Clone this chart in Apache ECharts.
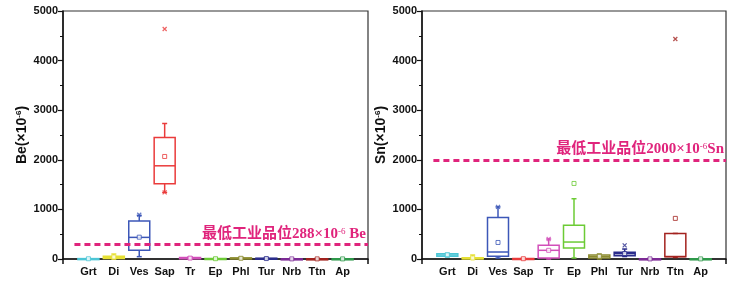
<!DOCTYPE html>
<html>
<head>
<meta charset="utf-8">
<script src="https://cdn.jsdelivr.net/npm/echarts@6/dist/echarts.min.js"></script>
<style>
  html, body { margin: 0; padding: 0; background: #fff; }
  #chart { width: 756px; height: 288px; }
</style>
</head>
<body>
<div id="chart"></div>
<script>
// 矿物
var cats = ['Grt', 'Di', 'Ves', 'Sap', 'Tr', 'Ep', 'Phl', 'Tur', 'Nrb', 'Ttn', 'Ap']
var boxColors = ['#4cc6d6', '#e6e033', '#3c57b8', '#ea3b3b', '#d24fb9', '#6ccb35', '#8b8b2e', '#2b2d8c', '#7d2b97', '#a3231f', '#2f9a4b']

// Be: 下须, Q1, 中位, Q3, 上须, 均值
var beLow = [0, 0, 47, 1342, 0, 0, 0, 0, 0, 0, 0]
var beQ1 = [2, 8, 175, 1517, 5, 2, 5, 3, 1, 1, 1]
var beMed = [5, 25, 436, 1879, 15, 5, 12, 8, 2, 2, 2]
var beQ3 = [8, 55, 765, 2450, 30, 10, 22, 15, 3, 3, 4]
var beHigh = [12, 100, 880, 2732, 45, 20, 35, 25, 5, 5, 6]
var beMean = [5, 40, 440, 2067, 18, 6, 14, 9, 2, 2, 2]
var beCross = [[3, 4638], [3, 1342], [2, 893]] // [类别, 值]
var beGrade = 288

// Sn
var snLow = [40, 0, 20, 0, 0, 20, 0, 50, 0, 30, 0]
var snQ1 = [55, 3, 54, 2, 20, 221, 20, 67, 1, 47, 1]
var snMed = [80, 10, 141, 5, 175, 342, 50, 107, 2, 50, 2]
var snQ3 = [105, 25, 839, 10, 275, 678, 80, 134, 3, 515, 4]
var snHigh = [115, 80, 1050, 15, 403, 1215, 100, 201, 5, 515, 6]
var snMean = [85, 20, 333, 6, 175, 1523, 55, 110, 2, 819, 2]
var snCross = [[2, 1050], [4, 403], [7, 275], [9, 4436]]
var snGrade = 2000

var yTicks = [0, 1000, 2000, 3000, 4000, 5000]

var chart = echarts.init(document.getElementById('chart'))

var latinCjk = '"Liberation Serif", "Noto Sans CJK SC", serif'
var sans = '"Liberation Sans", Arial'
var gradeColor = '#e0247c'

function boxRows(low, q1, med, q3, high) {
  return cats.map(function(c, i) {
    return {
      value: [i + 1, low[i], q1[i], med[i], q3[i], high[i]],
      itemStyle: { color: boxColors[i] }
    }
  })
}

function renderBox(params, api) {
  var x = api.value(0)
  var color = boxColors[params.dataIndex]
  var pLow = api.coord([x, api.value(1)])
  var pQ1 = api.coord([x, api.value(2)])
  var pMed = api.coord([x, api.value(3)])
  var pQ3 = api.coord([x, api.value(4)])
  var pHigh = api.coord([x, api.value(5)])
  var hw = 10.5
  var cap = 2.5
  var st = { stroke: color, lineWidth: 1.5, fill: null }
  return {
    type: 'group',
    children: [
      { type: 'line', shape: { x1: pQ3[0], y1: pQ3[1], x2: pHigh[0], y2: pHigh[1] }, style: st },
      { type: 'line', shape: { x1: pLow[0], y1: pLow[1], x2: pQ1[0], y2: pQ1[1] }, style: st },
      { type: 'line', shape: { x1: pHigh[0] - cap, y1: pHigh[1], x2: pHigh[0] + cap, y2: pHigh[1] }, style: st },
      { type: 'line', shape: { x1: pLow[0] - cap, y1: pLow[1], x2: pLow[0] + cap, y2: pLow[1] }, style: st },
      { type: 'rect', shape: { x: pQ3[0] - hw, y: pQ3[1], width: hw * 2, height: Math.max(pQ1[1] - pQ3[1], 1) }, style: st },
      { type: 'line', shape: { x1: pMed[0] - hw, y1: pMed[1], x2: pMed[0] + hw, y2: pMed[1] }, style: st }
    ]
  }
}

function meanPoints(mean) {
  return cats.map(function(c, i) {
    return {
      value: [i + 1, mean[i]],
      itemStyle: { color: '#fff', borderColor: boxColors[i], borderWidth: 1 }
    }
  })
}

function crossPoints(list) {
  return list.map(function(p) {
    return {
      value: [p[0] + 1, p[1]],
      itemStyle: { color: boxColors[p[0]], borderColor: boxColors[p[0]], borderWidth: 1.2 }
    }
  })
}

function gradeLine(val, text) {
  return {
    silent: true,
    symbol: 'none',
    lineStyle: { color: gradeColor, type: [6, 4], width: 3 },
    label: {
      show: true,
      position: 'insideEndTop',
      distance: [2, 3],
      formatter: text,
      rich: {
        a: { fontFamily: latinCjk, fontSize: 15, color: gradeColor, fontWeight: 'bold' },
        s: { fontFamily: latinCjk, fontSize: 9, color: gradeColor, verticalAlign: 'top' }
      }
    },
    data: [[{ coord: [0.45, val] }, { coord: [12, val] }]]
  }
}

function xAxis(idx) {
  return {
    gridIndex: idx,
    type: 'value',
    min: 0,
    max: 12,
    interval: 1,
    axisLine: { lineStyle: { color: '#111', width: 1.5 } },
    axisTick: { show: true, inside: false, length: 5, customValues: [0, 12], lineStyle: { color: '#111', width: 1.5 } },
    axisLabel: {
      customValues: [1, 2, 3, 4, 5, 6, 7, 8, 9, 10, 11],
      formatter: function(v) { return cats[Math.round(v) - 1] || '' },
      fontFamily: sans,
      fontWeight: 'bold',
      fontSize: 11,
      color: '#111',
      margin: 7
    },
    splitLine: { show: false }
  }
}

function yAxis(idx, el) {
  return {
    gridIndex: idx,
    type: 'value',
    min: 0,
    max: 5000,
    interval: 1000,
    name: el + '(×10{s|-6})',
    nameLocation: 'middle',
    nameGap: 34,
    nameTextStyle: {
      fontFamily: sans,
      fontWeight: 'bold',
      fontSize: 14,
      color: '#111',
      rich: {
        s: { fontFamily: sans, fontWeight: 'bold', fontSize: 8, color: '#111', verticalAlign: 'top' }
      }
    },
    axisLine: { show: true, lineStyle: { color: '#111', width: 1.5 } },
    axisTick: { show: true, inside: false, length: 5, lineStyle: { color: '#111', width: 1.2 } },
    minorTick: { show: true, splitNumber: 2, length: 3, lineStyle: { color: '#111', width: 1 } },
    axisLabel: {
      customValues: yTicks,
      formatter: function(v) { return String(v) },
      fontFamily: sans,
      fontWeight: 'bold',
      fontSize: 11,
      color: '#111',
      margin: 5
    },
    splitLine: { show: false }
  }
}

var option = {
  animation: false,
  backgroundColor: '#fff',
  grid: [
    { left: 63, top: 11, width: 305, height: 248, show: true, borderColor: '#333', borderWidth: 1.2 },
    { left: 422, top: 11, width: 304, height: 248, show: true, borderColor: '#333', borderWidth: 1.2 }
  ],
  xAxis: [xAxis(0), xAxis(1)],
  yAxis: [yAxis(0, 'Be'), yAxis(1, 'Sn')],
  series: [
    {
      type: 'custom', xAxisIndex: 0, yAxisIndex: 0,
      renderItem: renderBox,
      encode: { x: 0, y: [1, 2, 3, 4, 5] },
      data: boxRows(beLow, beQ1, beMed, beQ3, beHigh),
      z: 3
    },
    {
      type: 'scatter', xAxisIndex: 0, yAxisIndex: 0,
      symbol: 'rect', symbolSize: 4,
      data: meanPoints(beMean),
      z: 4,
      markLine: gradeLine(beGrade, '{a|最低工业品位288×10}{s|-6}{a| Be}')
    },
    {
      type: 'scatter', xAxisIndex: 0, yAxisIndex: 0,
      symbol: 'path://M0,0L10,10M10,0L0,10', symbolSize: 4,
      data: crossPoints(beCross),
      z: 4
    },
    {
      type: 'custom', xAxisIndex: 1, yAxisIndex: 1,
      renderItem: renderBox,
      encode: { x: 0, y: [1, 2, 3, 4, 5] },
      data: boxRows(snLow, snQ1, snMed, snQ3, snHigh),
      z: 3
    },
    {
      type: 'scatter', xAxisIndex: 1, yAxisIndex: 1,
      symbol: 'rect', symbolSize: 4,
      data: meanPoints(snMean),
      z: 4,
      markLine: gradeLine(snGrade, '{a|最低工业品位2000×10}{s|-6}{a|Sn}')
    },
    {
      type: 'scatter', xAxisIndex: 1, yAxisIndex: 1,
      symbol: 'path://M0,0L10,10M10,0L0,10', symbolSize: 4,
      data: crossPoints(snCross),
      z: 4
    }
  ]
}

chart.setOption(option)
window.addEventListener('resize', function() {
  chart.resize()
})
</script>
</body>
</html>
